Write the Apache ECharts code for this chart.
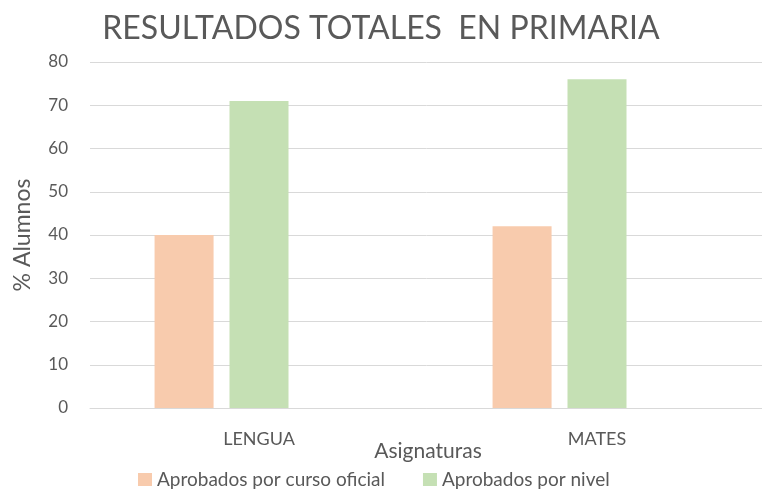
<!DOCTYPE html>
<html>
<head>
<meta charset="utf-8">
<script src="https://cdn.jsdelivr.net/npm/echarts@6/dist/echarts.min.js"></script>
<style>
  html, body { margin: 0; padding: 0; background: #fff; }
  #chart { width: 762px; height: 491px; }
</style>
</head>
<body>
<div id="chart"></div>
<script>
// datos
const asignaturas = ['LENGUA', 'MATES'];
const aprobadosCurso = [40, 42];
const aprobadosNivel = [71, 76];
const huecoVacio = [null, null]; // tercera serie vacía (ocupa sitio como en Excel)

const FONT = 'Lato';
const GRIS = '#595959';

const chart = echarts.init(document.getElementById('chart'));

const option = {
  backgroundColor: '#fff',
  animation: false,
  textStyle: { fontFamily: FONT },
  title: {
    text: 'RESULTADOS TOTALES  EN PRIMARIA',
    left: 'center',
    top: 8,
    textStyle: { fontFamily: FONT, fontSize: 32, fontWeight: 'normal', color: GRIS }
  },
  legend: {
    data: ['Aprobados por curso oficial', 'Aprobados por nivel'],
    top: 465,
    left: 133,
    icon: 'rect',
    itemWidth: 14,
    itemHeight: 13,
    itemGap: 38,
    textStyle: { fontFamily: FONT, fontSize: 19, color: GRIS }
  },
  grid: { left: 90, right: -4, top: 62, bottom: 83, outerBoundsMode: 'none' },
  xAxis: {
    type: 'category',
    data: asignaturas,
    name: 'Asignaturas',
    nameLocation: 'middle',
    nameGap: 33,
    nameMoveOverlap: false,
    nameTextStyle: { fontFamily: FONT, fontSize: 21, color: GRIS },
    axisLine: { lineStyle: { color: '#d9d9d9', width: 1 } },
    axisTick: { show: false },
    axisLabel: { fontFamily: FONT, fontSize: 18, color: GRIS, margin: 22 }
  },
  yAxis: {
    type: 'value',
    min: 0,
    max: 80,
    interval: 10,
    name: '% Alumnos',
    nameLocation: 'middle',
    nameGap: 56,
    nameMoveOverlap: false,
    nameTextStyle: { fontFamily: FONT, fontSize: 23, color: GRIS },
    axisLine: { show: false },
    axisTick: { show: false },
    axisLabel: { fontFamily: FONT, fontSize: 17, color: GRIS, margin: 22 },
    splitLine: { lineStyle: { color: '#d9d9d9', width: 1 } }
  },
  series: [
    {
      name: 'Aprobados por curso oficial',
      type: 'bar',
      data: aprobadosCurso,
      barWidth: 59,
      barGap: '27%',
      itemStyle: { color: '#F8CBAD' }
    },
    {
      name: 'Aprobados por nivel',
      type: 'bar',
      data: aprobadosNivel,
      barWidth: 59,
      barGap: '27%',
      itemStyle: { color: '#C5E0B4' }
    },
    {
      name: 'vacio',
      type: 'bar',
      data: huecoVacio,
      barWidth: 59,
      barGap: '27%',
      itemStyle: { color: '#ffffff' }
    }
  ]
};

chart.setOption(option);
</script>
</body>
</html>
